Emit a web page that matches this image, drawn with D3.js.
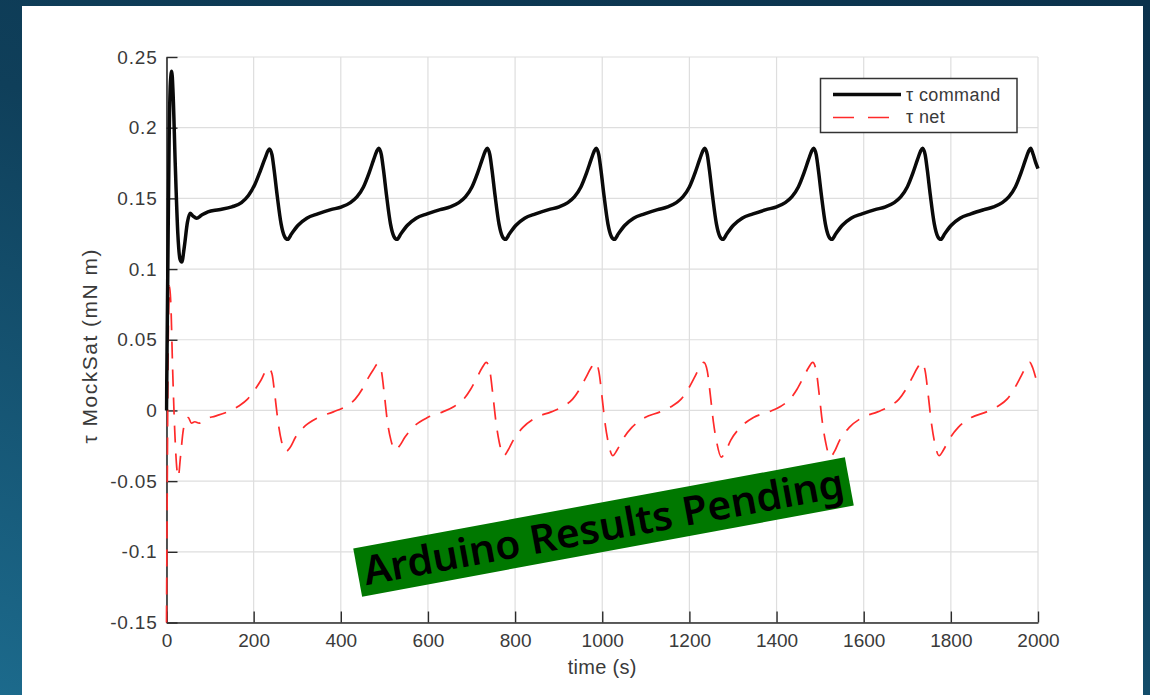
<!DOCTYPE html>
<html>
<head>
<meta charset="utf-8">
<script src="https://cdn.jsdelivr.net/npm/d3@7"></script>
<style>
  html, body { margin: 0; padding: 0; }
  body {
    width: 1150px; height: 695px; overflow: hidden;
    background: linear-gradient(200deg, #0b324c 0%, #0f3f5a 45%, #1c6a8c 100%);
  }
  svg { position: absolute; left: 0; top: 0; }
</style>
</head>
<body>
<svg id="chart" width="1150" height="695"></svg>
<script>
// ---------------- data ----------------
const commandTime = [
  0, 3, 6, 9, 12, 15, 20, 26, 31, 35, 41, 48, 54, 61, 69, 80, 95, 120, 150, 172, 188, 203, 216, 227, 236,
  242, 247, 254, 263, 271, 278, 287, 302, 322, 347, 377, 402, 422, 437, 452, 465, 475, 482, 487,
  493, 498, 505, 514, 522, 529, 538, 553, 573, 598, 628, 651, 671, 686, 701, 714, 724, 731, 736,
  742, 747, 754, 763, 771, 778, 787, 802, 822, 847, 877, 901, 921, 936, 951, 964, 974, 981, 986,
  992, 997, 1004, 1013, 1021, 1028, 1037, 1052, 1072, 1097, 1127, 1150, 1170, 1185, 1200, 1213, 1223, 1230, 1235,
  1241, 1246, 1253, 1262, 1270, 1277, 1286, 1301, 1321, 1346, 1376, 1400, 1420, 1435, 1450, 1463, 1473, 1480, 1485,
  1491, 1496, 1503, 1512, 1520, 1527, 1536, 1551, 1571, 1596, 1626, 1650, 1670, 1685, 1700, 1713, 1723, 1730, 1735,
  1741, 1746, 1753, 1762, 1770, 1777, 1786, 1801, 1821, 1846, 1876, 1898, 1918, 1933, 1948, 1961, 1971, 1978, 1983,
  1989, 1994, 2000
];
const commandTorque = [
  0.000, 0.100, 0.190, 0.232, 0.240, 0.225, 0.175, 0.125, 0.107, 0.105, 0.116, 0.133, 0.1395, 0.1375, 0.136, 0.138, 0.1405, 0.142, 0.144, 0.147, 0.152, 0.160, 0.170, 0.179, 0.185,
  0.181, 0.170, 0.152, 0.132, 0.123, 0.121, 0.125, 0.131, 0.136, 0.139, 0.142, 0.144, 0.147, 0.151, 0.158, 0.168, 0.177, 0.183, 0.1855,
  0.181, 0.170, 0.152, 0.132, 0.123, 0.121, 0.125, 0.131, 0.136, 0.139, 0.142, 0.144, 0.147, 0.151, 0.158, 0.168, 0.177, 0.183, 0.1855,
  0.181, 0.170, 0.152, 0.132, 0.123, 0.121, 0.125, 0.131, 0.136, 0.139, 0.142, 0.144, 0.147, 0.151, 0.158, 0.168, 0.177, 0.183, 0.1855,
  0.181, 0.170, 0.152, 0.132, 0.123, 0.121, 0.125, 0.131, 0.136, 0.139, 0.142, 0.144, 0.147, 0.151, 0.158, 0.168, 0.177, 0.183, 0.1855,
  0.181, 0.170, 0.152, 0.132, 0.123, 0.121, 0.125, 0.131, 0.136, 0.139, 0.142, 0.144, 0.147, 0.151, 0.158, 0.168, 0.177, 0.183, 0.1855,
  0.181, 0.170, 0.152, 0.132, 0.123, 0.121, 0.125, 0.131, 0.136, 0.139, 0.142, 0.144, 0.147, 0.151, 0.158, 0.168, 0.177, 0.183, 0.1855,
  0.181, 0.170, 0.152, 0.132, 0.123, 0.121, 0.125, 0.131, 0.136, 0.139, 0.142, 0.144, 0.147, 0.151, 0.158, 0.168, 0.177, 0.183, 0.1855,
  0.181, 0.176, 0.171
];
const netTime = [
  0, 2, 4, 7, 10, 14, 19, 24, 27, 32, 38, 44, 50, 57, 65, 75, 90, 112, 140, 165, 186, 201, 216, 228, 234,
  242, 249, 256, 264, 274, 284, 296, 318, 348, 383, 412, 433, 449, 463, 475, 485,
  493, 500, 507, 515, 525, 535, 547, 569, 599, 634, 661, 682, 698, 712, 724, 734,
  742, 749, 756, 764, 774, 784, 796, 818, 848, 883, 911, 932, 948, 962, 974, 984,
  992, 999, 1006, 1014, 1024, 1034, 1046, 1068, 1098, 1133, 1160, 1181, 1197, 1211, 1223, 1233,
  1241, 1248, 1255, 1263, 1273, 1283, 1295, 1317, 1347, 1382, 1410, 1431, 1447, 1461, 1473, 1483,
  1491, 1498, 1505, 1513, 1523, 1533, 1545, 1567, 1597, 1632, 1660, 1681, 1697, 1711, 1723, 1733,
  1741, 1748, 1755, 1763, 1773, 1783, 1795, 1817, 1847, 1882, 1908, 1929, 1945, 1959, 1971, 1981,
  1988, 1994, 2000
];
const netTorque = [
  -0.150, -0.040, 0.050, 0.088, 0.075, 0.030, -0.015, -0.042, -0.047, -0.033, -0.015, -0.007, -0.005, -0.009, -0.008, -0.009, -0.006, -0.004, -0.001, 0.003, 0.008, 0.014, 0.021, 0.028, 0.030,
  0.026, 0.010, -0.008, -0.022, -0.029, -0.026, -0.019, -0.011, -0.005, -0.001, 0.003, 0.008, 0.015, 0.023, 0.029, 0.033,
  0.028, 0.011, -0.008, -0.021, -0.028, -0.025, -0.019, -0.011, -0.005, -0.001, 0.003, 0.008, 0.015, 0.023, 0.030, 0.034,
  0.028, 0.011, -0.008, -0.023, -0.032, -0.028, -0.021, -0.012, -0.005, -0.001, 0.003, 0.008, 0.015, 0.023, 0.030, 0.034,
  0.028, 0.011, -0.008, -0.023, -0.032, -0.028, -0.021, -0.012, -0.005, -0.001, 0.003, 0.008, 0.015, 0.023, 0.030, 0.034,
  0.028, 0.011, -0.008, -0.023, -0.033, -0.029, -0.021, -0.012, -0.005, -0.001, 0.003, 0.008, 0.015, 0.023, 0.030, 0.034,
  0.028, 0.011, -0.008, -0.023, -0.033, -0.029, -0.021, -0.012, -0.005, -0.001, 0.003, 0.008, 0.015, 0.023, 0.030, 0.034,
  0.028, 0.011, -0.008, -0.023, -0.032, -0.028, -0.021, -0.012, -0.005, -0.001, 0.003, 0.008, 0.015, 0.023, 0.030, 0.034,
  0.030, 0.024, 0.017
];
const xTicks = [0, 200, 400, 600, 800, 1000, 1200, 1400, 1600, 1800, 2000];
const yTicks = [-0.15, -0.1, -0.05, 0, 0.05, 0.1, 0.15, 0.2, 0.25];
const yTickLabels = ["-0.15", "-0.1", "-0.05", "0", "0.05", "0.1", "0.15", "0.2", "0.25"];
const seriesNames = ["\u03C4 command", "\u03C4 net"];
const xLabel = "time (s)";
const yLabel = "\u03C4 MockSat (mN m)";
const bannerText = "Arduino Results Pending";

// ---------------- layout ----------------
const svg = d3.select("#chart");
const L = 166.5, R = 1038, T = 57, B = 622.5;
const x = d3.scaleLinear().domain([0, 2000]).range([L, R]);
const y = d3.scaleLinear().domain([-0.15, 0.25]).range([B, T]);
const font = "'Liberation Sans', Arial, Helvetica, sans-serif";
const textCol = "#3a3a3a";

// white panel
svg.append("rect").attr("x", 22).attr("y", 6).attr("width", 1121).attr("height", 700).attr("fill", "#ffffff");

// grid
const grid = svg.append("g").attr("stroke", "#dedede").attr("stroke-width", 1.2).attr("fill", "none");
grid.selectAll(".gx").data(xTicks).join("line")
  .attr("x1", d => x(d)).attr("x2", d => x(d)).attr("y1", T).attr("y2", B);
grid.selectAll(".gy").data(yTicks).join("line")
  .attr("x1", L).attr("x2", R).attr("y1", d => y(d)).attr("y2", d => y(d));

// axes with inward ticks
const xAxis = d3.axisBottom(x).tickValues(xTicks).tickSizeInner(-11).tickSizeOuter(0).tickPadding(11).tickFormat(d3.format("d"));
const yAxis = d3.axisLeft(y).tickValues(yTicks).tickSizeInner(-11).tickSizeOuter(0).tickPadding(9)
  .tickFormat((d, i) => yTickLabels[i]);

const gx = svg.append("g").attr("transform", `translate(0,${B})`).call(xAxis);
const gy = svg.append("g").attr("transform", `translate(${L},0)`).call(yAxis);
[gx, gy].forEach(g => {
  g.select(".domain").attr("stroke", "#2a2a2a").attr("stroke-width", 1.6);
  g.selectAll(".tick line").attr("stroke", "#2a2a2a").attr("stroke-width", 1.4);
  g.selectAll(".tick text").attr("fill", textCol).style("font-family", font).style("font-size", "19px");
});
gy.selectAll(".tick text").style("letter-spacing", "0.8px");

// axis labels
svg.append("text").attr("x", (L + R) / 2).attr("y", 674).attr("text-anchor", "middle")
  .style("font-family", font).style("font-size", "20px").style("letter-spacing", "0.3px")
  .attr("fill", textCol).text(xLabel);
svg.append("text").attr("transform", `translate(97,${(T + B) / 2 + 6}) rotate(-90)`).attr("text-anchor", "middle")
  .style("font-family", font).style("font-size", "21px").style("letter-spacing", "1.5px")
  .attr("fill", textCol).text(yLabel);

// lines
svg.append("clipPath").attr("id", "plotclip").append("rect")
  .attr("x", L - 2).attr("y", T - 4).attr("width", R - L + 4).attr("height", B - T + 6);

const cmdData = commandTime.map((t, i) => [t, commandTorque[i]]);
const netData = netTime.map((t, i) => [t, netTorque[i]]);
const line = d3.line().x(d => x(d[0])).y(d => y(d[1])).curve(d3.curveMonotoneX);

svg.append("path").datum(netData).attr("d", line).attr("fill", "none")
  .attr("stroke", "#ff2a2a").attr("stroke-width", 1.7).attr("stroke-dasharray", "17,11")
  .attr("clip-path", "url(#plotclip)");
svg.append("path").datum(cmdData).attr("d", line).attr("fill", "none")
  .attr("stroke", "#0a0a0a").attr("stroke-width", 3.5).attr("stroke-linejoin", "round")
  .attr("clip-path", "url(#plotclip)");

// legend
const lg = svg.append("g");
lg.append("rect").attr("x", 820.5).attr("y", 78.5).attr("width", 196.5).attr("height", 54)
  .attr("fill", "#ffffff").attr("stroke", "#333333").attr("stroke-width", 1.5);
lg.append("line").attr("x1", 833).attr("x2", 901).attr("y1", 94.5).attr("y2", 94.5)
  .attr("stroke", "#0a0a0a").attr("stroke-width", 3.5);
lg.append("line").attr("x1", 833).attr("x2", 901).attr("y1", 117.5).attr("y2", 117.5)
  .attr("stroke", "#ff2a2a").attr("stroke-width", 1.7).attr("stroke-dasharray", "21,14");
lg.selectAll(".lt").data(seriesNames).join("text")
  .attr("x", 906).attr("y", (d, i) => 100.5 + i * 22)
  .style("font-family", font).style("font-size", "18px").style("letter-spacing", "0.4px")
  .attr("fill", textCol).text(d => d);

// banner
const bn = svg.append("g").attr("transform", "translate(603.5,527) rotate(-10.5)");
bn.append("rect").attr("x", -250).attr("y", -24.5).attr("width", 500).attr("height", 49).attr("fill", "#007800");
bn.append("text").attr("x", 0).attr("y", 14).attr("text-anchor", "middle")
  .attr("textLength", 488).attr("lengthAdjust", "spacingAndGlyphs")
  .style("font-family", "'Noto Sans', 'Open Sans', sans-serif").style("font-weight", 600).style("font-size", "40px")
  .attr("fill", "#000000").text(bannerText);
</script>
</body>
</html>
